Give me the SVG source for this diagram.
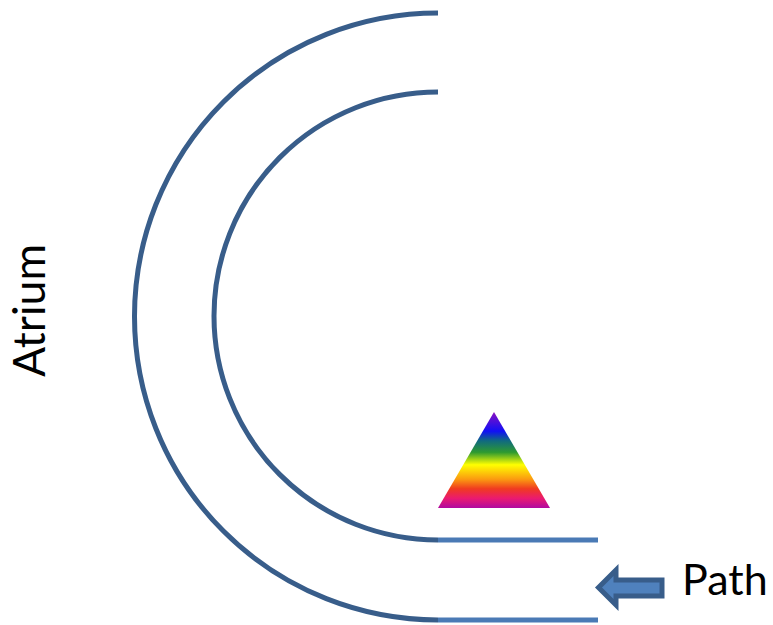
<svg xmlns="http://www.w3.org/2000/svg" width="773" height="625" viewBox="0 0 773 625">
<defs>
<linearGradient id="rainbow" gradientUnits="userSpaceOnUse" x1="0" y1="412" x2="0" y2="508">
<stop offset="0" stop-color="#8a0fc0"/>
<stop offset="0.2" stop-color="#1010f5"/>
<stop offset="0.3" stop-color="#106a80"/>
<stop offset="0.42" stop-color="#2e9a30"/>
<stop offset="0.55" stop-color="#ffff00"/>
<stop offset="0.7" stop-color="#fb9a10"/>
<stop offset="0.8" stop-color="#f03a20"/>
<stop offset="0.9" stop-color="#ea1a70"/>
<stop offset="1" stop-color="#b00aa0"/>
</linearGradient>
<style>
.arc{fill:none;stroke:#385d8a;stroke-width:5}
.line{fill:none;stroke:#4a7ab5;stroke-width:5}
.lbl{font-family:"Lato","Open Sans",sans-serif;fill:#000}
</style>
</defs>
<g id="connectors">
<path class="arc" d="M438 13A303.500 303.500 0 0 0 438 620"/>
<path class="arc" d="M438 92A224 224 0 0 0 438 540"/>
<path class="line" d="M438 540H598"/>
<path class="line" d="M438 620H598"/>
</g>
<g id="prism"><polygon points="494,412 550,508 438,508" fill="url(#rainbow)"/></g>
<g id="path-arrow"><polygon points="598.500,587.500 616,570 616,580 662,580 662,596 616,596 616,605" fill="#4f81bd" stroke="#385d8a" stroke-width="5"/></g>
<g id="path-label"><text class="lbl" font-size="43" x="682" y="595">Path</text></g>
<g id="atrium-label"><text class="lbl" font-size="44.500" transform="translate(45 377) rotate(-90)" x="0" y="0">Atrium</text></g>
</svg>
